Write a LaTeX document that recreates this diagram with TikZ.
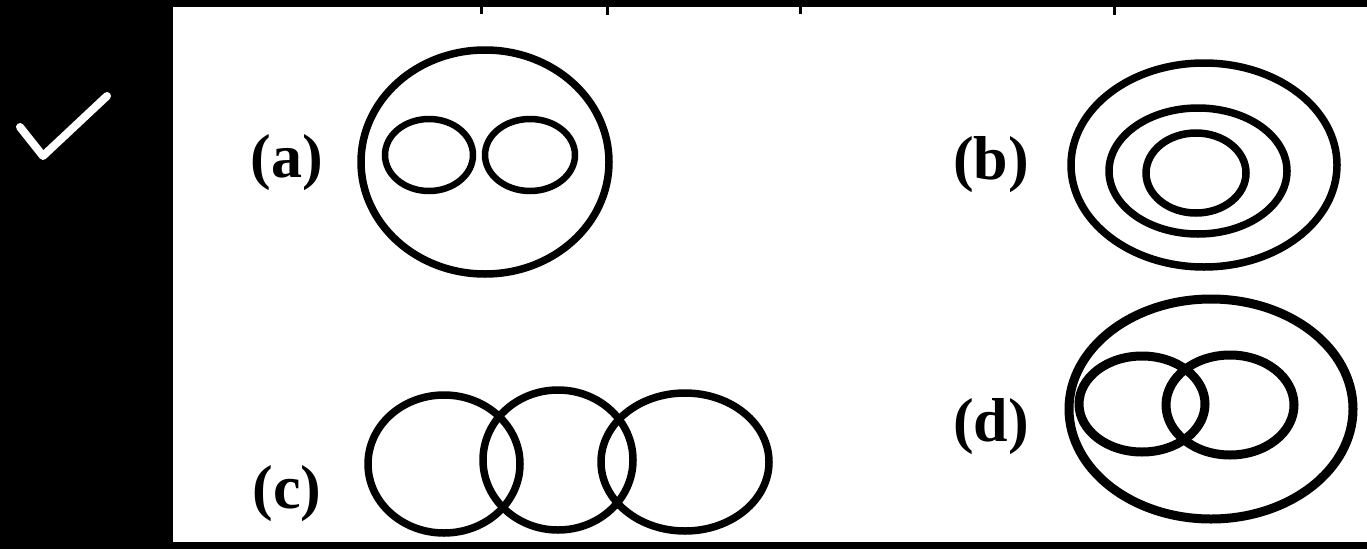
\documentclass[tikz,border=0pt]{standalone}
\usepackage{fontspec}
\setmainfont{Liberation Serif}
\usetikzlibrary{positioning}

\begin{document}
\begin{tikzpicture}[x=1pt,y=-1pt,
  lb/.style={font=\fontsize{62}{62}\selectfont\bfseries,inner sep=0pt,anchor=center},
  rg/.style={draw=black,line width=7.5pt},
  rgt/.style={draw=black,line width=9pt},
  tk/.style={draw=black,line width=3pt}]
\fill[black] (0,0) rectangle (1367,549);
\fill[white] (173,7) rectangle (1367,542);
\useasboundingbox (0,0) rectangle (1367,549);
\draw[tk] (481,6)--(481,14); \draw[tk] (607,6)--(607,15); \draw[tk] (800,6)--(800,14); \draw[tk] (1114,6)--(1114,15);
\draw[white,line width=8pt,line cap=round,line join=round] (20,127)--(43,156)--(107,96);
\node[lb] (la) at (287,163) {(a)};
\node[lb] (lb) at (991,165) {(b)};
\node[lb] (lc) at (287,494) {(c)};
\node[lb] (ld) at (991,427) {(d)};
\draw[rg] (485,162) ellipse [x radius=124,y radius=112];
\draw[rg,line width=6.5pt] (429,155) ellipse [x radius=44,y radius=36];
\draw[rg,line width=6.5pt] (530,155) ellipse [x radius=45,y radius=36];
\draw[rg] (1204,165) ellipse [x radius=133,y radius=102];
\draw[rg] (1198,171) ellipse [x radius=89,y radius=63];
\draw[rg] (1196,173) ellipse [x radius=50,y radius=40];
\draw[rg] (444,464) ellipse [x radius=76,y radius=69];
\draw[rg] (558,460) ellipse [x radius=75,y radius=70];
\draw[rg] (685,462) ellipse [x radius=84,y radius=69];
\draw[rgt] (1211,409) ellipse [x radius=142,y radius=110];
\draw[rgt] (1142,404) ellipse [x radius=63,y radius=48];
\draw[rgt] (1230,405) ellipse [x radius=64,y radius=50];
\end{tikzpicture}
\end{document}
